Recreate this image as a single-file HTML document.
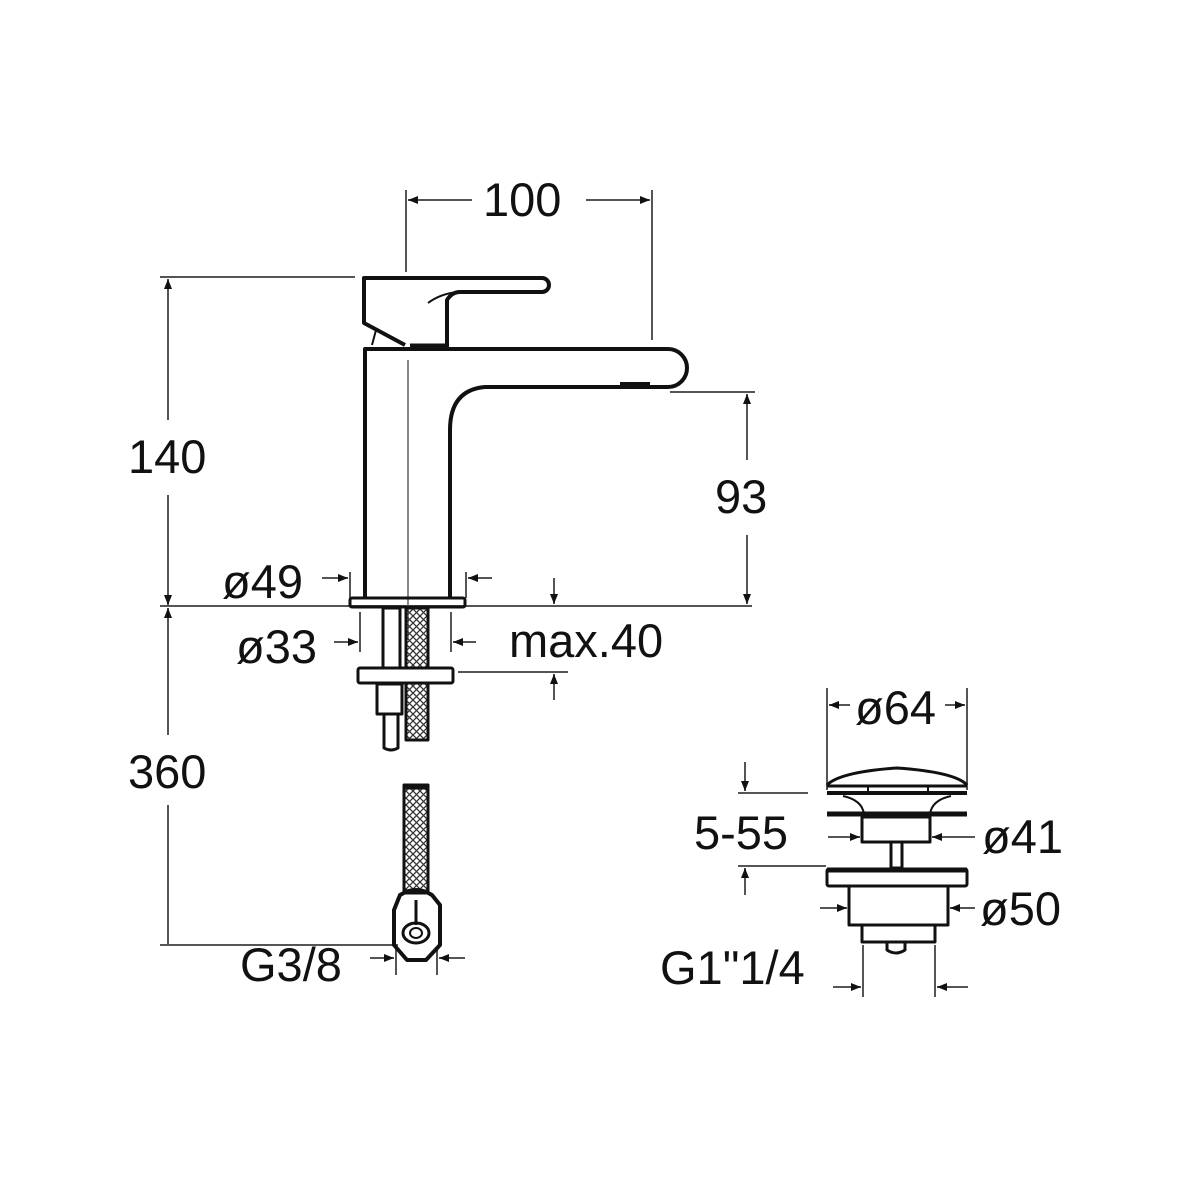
<!DOCTYPE html>
<html><head><meta charset="utf-8"><style>
html,body{margin:0;padding:0;background:#fff}
svg{display:block}
text{font-family:"Liberation Sans",sans-serif;font-size:47px;fill:#111}
</style></head><body>
<svg width="1200" height="1200" viewBox="0 0 1200 1200" xmlns="http://www.w3.org/2000/svg">
<defs>
<marker id="a" markerWidth="10" markerHeight="8" refX="10" refY="4" orient="auto" markerUnits="userSpaceOnUse">
<path d="M0,0 L10,4 L0,8 Z" fill="#111"/></marker>
<pattern id="h" width="7" height="7" patternUnits="userSpaceOnUse">
<path d="M0,0 L7,7 M7,0 L0,7" stroke="#333" stroke-width="1.3"/></pattern>
</defs>
<g stroke="#555" stroke-width="2" fill="none">
<line x1="406" y1="190" x2="406" y2="272"/>
<line x1="652" y1="190" x2="652" y2="340"/>
<line x1="472" y1="200" x2="408" y2="200" marker-end="url(#a)"/>
<line x1="586" y1="200" x2="650" y2="200" marker-end="url(#a)"/>
<line x1="160" y1="277" x2="355" y2="277"/>
<line x1="168" y1="420" x2="168" y2="279" marker-end="url(#a)"/>
<line x1="168" y1="495" x2="168" y2="605" marker-end="url(#a)"/>
<line x1="160" y1="606" x2="752" y2="606"/>
<line x1="168" y1="735" x2="168" y2="608" marker-end="url(#a)"/>
<line x1="168" y1="805" x2="168" y2="945"/>
<line x1="160" y1="945" x2="398" y2="945"/>
<line x1="670" y1="392" x2="755" y2="392"/>
<line x1="747" y1="460" x2="747" y2="394" marker-end="url(#a)"/>
<line x1="747" y1="535" x2="747" y2="604" marker-end="url(#a)"/>
<line x1="408" y1="360" x2="408" y2="640" stroke="#888"/>
<line x1="350" y1="572" x2="350" y2="598"/>
<line x1="466" y1="572" x2="466" y2="598"/>
<line x1="322" y1="578" x2="348" y2="578" marker-end="url(#a)"/>
<line x1="492" y1="578" x2="468" y2="578" marker-end="url(#a)"/>
<line x1="360" y1="612" x2="360" y2="652"/>
<line x1="451" y1="612" x2="451" y2="652"/>
<line x1="334" y1="642" x2="358" y2="642" marker-end="url(#a)"/>
<line x1="476" y1="642" x2="453" y2="642" marker-end="url(#a)"/>
<line x1="554" y1="578" x2="554" y2="604" marker-end="url(#a)"/>
<line x1="458" y1="672" x2="568" y2="672"/>
<line x1="554" y1="700" x2="554" y2="674" marker-end="url(#a)"/>
<line x1="396" y1="948" x2="396" y2="975"/>
<line x1="437" y1="948" x2="437" y2="975"/>
<line x1="370" y1="958" x2="394" y2="958" marker-end="url(#a)"/>
<line x1="465" y1="958" x2="439" y2="958" marker-end="url(#a)"/>
<line x1="827" y1="688" x2="827" y2="790"/>
<line x1="967" y1="688" x2="967" y2="790"/>
<line x1="850" y1="705" x2="829" y2="705" marker-end="url(#a)"/>
<line x1="945" y1="705" x2="965" y2="705" marker-end="url(#a)"/>
<line x1="738" y1="793" x2="808" y2="793"/>
<line x1="745" y1="762" x2="745" y2="791" marker-end="url(#a)"/>
<line x1="738" y1="866" x2="826" y2="866"/>
<line x1="745" y1="895" x2="745" y2="868" marker-end="url(#a)"/>
<line x1="828" y1="837" x2="860" y2="837" marker-end="url(#a)"/>
<line x1="975" y1="837" x2="932" y2="837" marker-end="url(#a)"/>
<line x1="820" y1="908" x2="847" y2="908" marker-end="url(#a)"/>
<line x1="975" y1="908" x2="950" y2="908" marker-end="url(#a)"/>
<line x1="863" y1="945" x2="863" y2="997"/>
<line x1="935" y1="945" x2="935" y2="997"/>
<line x1="833" y1="987" x2="861" y2="987" marker-end="url(#a)"/>
<line x1="968" y1="987" x2="937" y2="987" marker-end="url(#a)"/>
</g>
<g stroke="#111" stroke-width="4" fill="none" stroke-linejoin="round">
<path d="M364,300 L364,278 L542,278 A7,7 0 0 1 542,292 L460,292 Q452,292 447,300 L447,347"/>
<path d="M364,300 L364,323 L405,345"/>
<path d="M428,303 Q440,294 457,292" stroke-width="2"/>
<path d="M372,345 L376,330" stroke-width="2"/>
<path d="M365,597 L365,349 L668,349 A19,19 0 0 1 668,387 L485,387 Q450,390 450,430 L450,597"/>
<path d="M620,385 L650,385" stroke-width="6"/>
<line x1="410" y1="346" x2="447" y2="346" stroke-width="5"/>
<rect x="350" y="598" width="115" height="9" rx="2" stroke-width="3"/>
<rect x="383" y="608" width="17" height="60" stroke-width="3"/>
<rect x="406" y="608" width="22" height="132" fill="url(#h)" stroke-width="3"/>
<rect x="358" y="668" width="95" height="15" rx="2" stroke-width="3" fill="#fff"/>
<rect x="377" y="684" width="25" height="30" stroke-width="3"/>
<path d="M384,714 L384,748 Q391,752 398,748 L398,714" stroke-width="3"/>
<rect x="404" y="785" width="24" height="108" fill="url(#h)" stroke-width="3"/>
<path d="M404,787 L428,787" stroke-width="5"/>
<path d="M400,895 Q416,885 432,895 L440,905 L440,945 L426,960 L407,960 L394,945 L394,910 Z" stroke-width="4"/>
<ellipse cx="416" cy="933" rx="13" ry="10" stroke-width="3"/>
<ellipse cx="416" cy="933" rx="6" ry="5" stroke-width="2"/>
<line x1="416" y1="900" x2="416" y2="925" stroke-width="3"/>
<path d="M827,785 Q840,772 897,768 Q955,772 967,785" stroke-width="3"/>
<line x1="827" y1="786" x2="967" y2="786" stroke-width="3"/>
<line x1="827" y1="793" x2="967" y2="793" stroke-width="4"/>
<line x1="868" y1="786" x2="868" y2="792" stroke-width="2"/>
<line x1="928" y1="786" x2="928" y2="792" stroke-width="2"/>
<path d="M843,796 Q862,800 864,814 M951,796 Q932,800 930,814" stroke-width="2"/>
<line x1="827" y1="814" x2="967" y2="814" stroke-width="5"/>
<rect x="862" y="817" width="68" height="25" stroke-width="3"/>
<rect x="891" y="842" width="11" height="26" stroke-width="3"/>
<rect x="827" y="869" width="140" height="17" rx="2" stroke-width="3"/>
<line x1="827" y1="870" x2="967" y2="870" stroke-width="5"/>
<rect x="849" y="886" width="99" height="39" stroke-width="3"/>
<rect x="862" y="925" width="73" height="17" stroke-width="3"/>
<path d="M887,942 L887,950 Q896,956 905,950 L905,942" stroke-width="3"/>
</g>
<text x="483" y="216">100</text>
<text x="128" y="473">140</text>
<text x="128" y="788">360</text>
<text x="715" y="513">93</text>
<text x="222" y="598">ø49</text>
<text x="236" y="663">ø33</text>
<text x="509" y="657">max.40</text>
<text x="240" y="981">G3/8</text>
<text x="855" y="724">ø64</text>
<text x="694" y="849">5-55</text>
<text x="982" y="853">ø41</text>
<text x="980" y="925">ø50</text>
<text x="660" y="984">G1"1/4</text>
</svg>
</body></html>
